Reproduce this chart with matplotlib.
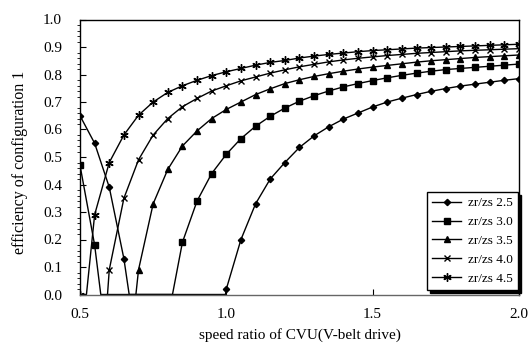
import matplotlib
matplotlib.use("Agg")
import matplotlib.pyplot as plt
import numpy as np

plt.rcParams['font.family'] = ['Liberation Serif', 'DejaVu Serif']

# speed ratio grid used by all series
x_grid = [0.50, 0.55, 0.60, 0.65, 0.70, 0.75, 0.80, 0.85, 0.90, 0.95,
          1.00, 1.05, 1.10, 1.15, 1.20, 1.25, 1.30, 1.35, 1.40, 1.45,
          1.50, 1.55, 1.60, 1.65, 1.70, 1.75, 1.80, 1.85, 1.90, 1.95, 2.00]

N = None
# efficiency values (None = no marker there)
eff_25 = [0.65, 0.55, 0.39, 0.13, N, N, N, N, N, N,
          0.02, 0.20, 0.33, 0.42, 0.48, 0.535, 0.577, 0.61, 0.638, 0.66,
          0.682, 0.70, 0.714, 0.727, 0.739, 0.749, 0.758, 0.765, 0.772, 0.779, 0.785]
eff_30 = [0.47, 0.18, N, N, N, N, N, 0.19, 0.34, 0.44,
          0.51, 0.567, 0.612, 0.648, 0.678, 0.703, 0.723, 0.74, 0.755, 0.767,
          0.778, 0.788, 0.797, 0.805, 0.812, 0.818, 0.822, 0.826, 0.83, 0.834, 0.838]
eff_35 = [N, N, N, N, 0.09, 0.33, 0.455, 0.54, 0.595, 0.64,
          0.673, 0.70, 0.727, 0.748, 0.767, 0.781, 0.793, 0.803, 0.812, 0.82,
          0.827, 0.833, 0.839, 0.845, 0.85, 0.854, 0.858, 0.862, 0.865, 0.868, 0.871]
eff_40 = [N, N, 0.09, 0.35, 0.49, 0.58, 0.64, 0.683, 0.713, 0.74,
          0.759, 0.777, 0.791, 0.805, 0.817, 0.828, 0.837, 0.846, 0.853, 0.859,
          0.864, 0.869, 0.873, 0.877, 0.88, 0.883, 0.886, 0.888, 0.89, 0.892, 0.894]
eff_45 = [0.0, 0.29, 0.48, 0.58, 0.652, 0.70, 0.735, 0.759, 0.779, 0.796,
          0.81, 0.822, 0.834, 0.844, 0.851, 0.86, 0.867, 0.873, 0.878, 0.883,
          0.887, 0.89, 0.893, 0.896, 0.898, 0.90, 0.902, 0.904, 0.906, 0.908, 0.91]

# where each curve meets the x axis (line only, no marker)
zero_25 = [0.668, 0.997]
zero_30 = [0.571, 0.816]
zero_35 = [0.691]
zero_40 = [0.594]
zero_45 = [0.522]

labels = ['zr/zs 2.5', 'zr/zs 3.0', 'zr/zs 3.5', 'zr/zs 4.0', 'zr/zs 4.5']
series = [eff_25, eff_30, eff_35, eff_40, eff_45]
zeros = [zero_25, zero_30, zero_35, zero_40, zero_45]
markers = ['D', 's', '^', 'x', (6, 2, 0)]
msizes = [3.2, 4.5, 4.5, 5, 6]

fig = plt.figure(figsize=(5.29, 3.58), dpi=100)
ax = fig.add_axes([80/529, 1 - 294.5/358, 439/529, 275/358])

for ys, zs, lab, mk, ms in zip(series, zeros, labels, markers, msizes):
    pts = [(x, y, True) for x, y in zip(x_grid, ys) if y is not None]
    pts += [(z, 0.0, False) for z in zs]
    pts.sort(key=lambda p: p[0])
    lx = [p[0] for p in pts]
    ly = [p[1] for p in pts]
    idx = [i for i, p in enumerate(pts) if p[2]]
    ax.plot(lx, ly, color='black', lw=1.0, marker=mk, ms=ms,
            markevery=idx, mec='black', mfc='black', mew=1.0, label=lab)

ax.set_xlim(0.5, 2.0)
ax.set_ylim(0.0, 1.0)
ax.set_xticks([0.5, 1.0, 1.5, 2.0])
ax.set_xticklabels(['0.5', '1.0', '1.5', '2.0'])
ax.set_yticks(np.arange(0, 1.01, 0.1))
ax.set_yticklabels(['%.1f' % v for v in np.arange(0, 1.01, 0.1)])
ax.set_yticks(np.arange(0, 1.001, 0.02), minor=True)
ax.tick_params(axis='both', direction='in', labelsize=11, colors='black')
ax.tick_params(axis='x', length=4, pad=10)
ax.tick_params(axis='y', which='major', length=4, pad=13)
ax.tick_params(axis='y', which='minor', length=2.5)

for s in ['top', 'left', 'right']:
    ax.spines[s].set_color('black')
    ax.spines[s].set_linewidth(1.0)
ax.spines['bottom'].set_color('0.4')
ax.spines['bottom'].set_linewidth(1.0)

ax.set_xlabel('speed ratio of CVU(V-belt drive)', fontsize=11)
ax.xaxis.set_label_coords(0.5, -0.122)
ax.set_ylabel('efficiency of configuration 1', fontsize=11.5)
ax.yaxis.set_label_coords(-0.118, 0.48)

leg = ax.legend(loc='lower right', bbox_to_anchor=(518/529, 1 - 290/358),
                bbox_transform=fig.transFigure, borderaxespad=0,
                fontsize=9.5, numpoints=1, handlelength=2.2,
                fancybox=False, framealpha=1, edgecolor='black',
                shadow={'color': 'black', 'alpha': 1}, labelspacing=0.5,
                borderpad=0.4, handletextpad=0.5)
leg.get_frame().set_linewidth(1.0)

fig.savefig('out.png', dpi=100)
